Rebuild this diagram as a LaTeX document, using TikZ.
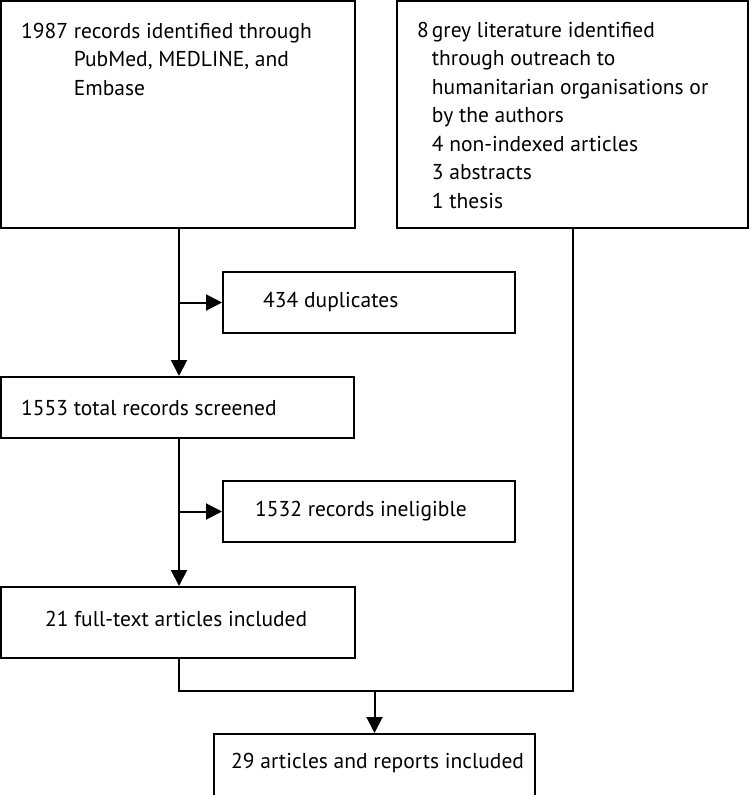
\documentclass[tikz,border=0pt]{standalone}
\usepackage{fontspec}
\setmainfont{PT Sans}
\usetikzlibrary{arrows.meta,calc}
\begin{document}
\begin{tikzpicture}[x=1pt,y=-1pt,
  box/.style={draw=black,line width=2pt,rectangle,inner sep=0pt,fill=white},
  txt/.style={inner sep=0pt,align=left,font=\fontsize{21.5}{28.5}\selectfont},
  conn/.style={draw=black,line width=2pt},
  arr/.style={conn,-{Triangle[length=16pt,width=16pt]}},
]
\useasboundingbox[fill=white] (0,0) rectangle (751,795);
% boxes
\node[box,minimum width=354pt,minimum height=227pt] (b1) at (178,114.5) {};
\node[box,minimum width=351pt,minimum height=227pt] (b2) at (572.5,114.5) {};
\node[box,minimum width=292pt,minimum height=61pt] (dup) at (369,302.5) {};
\node[box,minimum width=353pt,minimum height=61pt] (b3) at (177.5,407.5) {};
\node[box,minimum width=292pt,minimum height=61pt] (inel) at (369,511.5) {};
\node[box,minimum width=354pt,minimum height=71pt] (b5) at (178,622.5) {};
\node[box,minimum width=321pt,minimum height=62pt] (b6) at (374.5,765) {};
% texts
\node[txt,anchor=north west] (t1) at (21,18) {\begin{tabular}{@{}l@{\ }l@{}}1987 & records identified through\\ & PubMed, MEDLINE, and\\ & Embase\end{tabular}};
\node[txt,anchor=north west] (t2) at (417,17) {\begin{tabular}{@{}l@{\hspace{3pt}}l@{}}8 & grey literature identified\\ & through outreach to\\ & humanitarian organisations or\\ & by the authors\\ & 4 non-indexed articles\\ & 3 abstracts\\ & 1 thesis\end{tabular}};
\node[txt,anchor=west] (tdup) at (263,302.5) {434 duplicates};
\node[txt,anchor=west] (t3) at (21,407.5) {1553 total records screened};
\node[txt,anchor=west] (tinel) at (255,511.5) {1532 records ineligible};
\node[txt,anchor=west] (t5) at (45,619) {21 full-text articles included};
\node[txt,anchor=west] (t6) at (231,763) {29 articles and reports included};
% connectors
\coordinate (v1) at (179,0);
\draw[arr] (b1.south -| v1) -- (b3.north -| v1);
\draw[arr] (dup.west -| v1) -- (dup.west);
\draw[arr] (b3.south -| v1) -- (b5.north -| v1);
\draw[arr] (inel.west -| v1) -- (inel.west);
\coordinate (jy) at (0,691);
\draw[conn] (b5.south -| v1) -- (jy -| v1) -- (jy -| b2.south) -- (b2.south);
\draw[arr] (jy -| b6.north) -- (b6.north);
\end{tikzpicture}
\end{document}
